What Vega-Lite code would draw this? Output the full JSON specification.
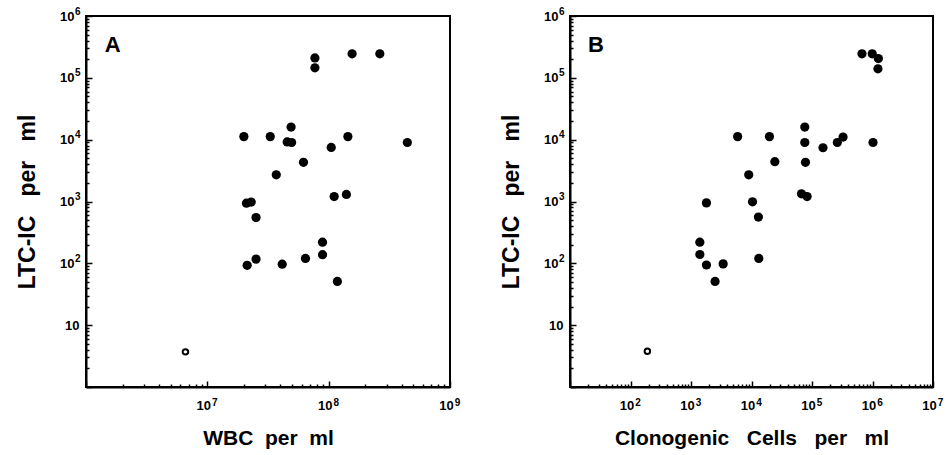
{
  "$schema": "https://vega.github.io/schema/vega-lite/v6.json",
  "background": "white",
  "padding": {"left": 15, "top": 5, "right": 5, "bottom": 5},
  "spacing": 38,
  "datasets": {
    "wbc": [
      {"x": 77000000, "y": 210000, "kind": "filled"},
      {"x": 77000000, "y": 145000, "kind": "filled"},
      {"x": 156000000, "y": 245000, "kind": "filled"},
      {"x": 264000000, "y": 245000, "kind": "filled"},
      {"x": 49000000, "y": 16000, "kind": "filled"},
      {"x": 20000000, "y": 11200, "kind": "filled"},
      {"x": 33000000, "y": 11200, "kind": "filled"},
      {"x": 45500000, "y": 9200, "kind": "filled"},
      {"x": 49500000, "y": 9000, "kind": "filled"},
      {"x": 144000000, "y": 11200, "kind": "filled"},
      {"x": 445000000, "y": 9000, "kind": "filled"},
      {"x": 105000000, "y": 7500, "kind": "filled"},
      {"x": 62000000, "y": 4300, "kind": "filled"},
      {"x": 37000000, "y": 2700, "kind": "filled"},
      {"x": 21000000, "y": 940, "kind": "filled"},
      {"x": 23000000, "y": 980, "kind": "filled"},
      {"x": 111000000, "y": 1200, "kind": "filled"},
      {"x": 140000000, "y": 1300, "kind": "filled"},
      {"x": 25200000, "y": 550, "kind": "filled"},
      {"x": 89000000, "y": 220, "kind": "filled"},
      {"x": 89000000, "y": 138, "kind": "filled"},
      {"x": 21300000, "y": 93, "kind": "filled"},
      {"x": 25200000, "y": 117, "kind": "filled"},
      {"x": 41400000, "y": 97, "kind": "filled"},
      {"x": 64400000, "y": 120, "kind": "filled"},
      {"x": 118000000, "y": 51, "kind": "filled"},
      {"x": 6600000, "y": 3.7, "kind": "open"}
    ],
    "clono": [
      {"x": 670000, "y": 245000, "kind": "filled"},
      {"x": 990000, "y": 245000, "kind": "filled"},
      {"x": 1250000, "y": 205000, "kind": "filled"},
      {"x": 1230000, "y": 140000, "kind": "filled"},
      {"x": 5900, "y": 11200, "kind": "filled"},
      {"x": 19800, "y": 11200, "kind": "filled"},
      {"x": 76000, "y": 16000, "kind": "filled"},
      {"x": 76000, "y": 9000, "kind": "filled"},
      {"x": 152000, "y": 7400, "kind": "filled"},
      {"x": 262000, "y": 9000, "kind": "filled"},
      {"x": 326000, "y": 11000, "kind": "filled"},
      {"x": 1020000, "y": 9000, "kind": "filled"},
      {"x": 78000, "y": 4300, "kind": "filled"},
      {"x": 24300, "y": 4400, "kind": "filled"},
      {"x": 9000, "y": 2700, "kind": "filled"},
      {"x": 1800, "y": 950, "kind": "filled"},
      {"x": 10400, "y": 990, "kind": "filled"},
      {"x": 67000, "y": 1330, "kind": "filled"},
      {"x": 83000, "y": 1200, "kind": "filled"},
      {"x": 13000, "y": 560, "kind": "filled"},
      {"x": 1400, "y": 220, "kind": "filled"},
      {"x": 1400, "y": 139, "kind": "filled"},
      {"x": 1800, "y": 94, "kind": "filled"},
      {"x": 3400, "y": 98, "kind": "filled"},
      {"x": 2500, "y": 51, "kind": "filled"},
      {"x": 13200, "y": 120, "kind": "filled"},
      {"x": 190, "y": 3.8, "kind": "open"}
    ],
    "labA": [{"label": "A", "x": 1430000, "y": 260000}],
    "labB": [{"label": "B", "x": 19.8, "y": 260000}]
  },
  "hconcat": [
    {
      "width": 364,
      "height": 371,
      "resolve": {"axis": {"x": "independent", "y": "independent"}},
      "layer": [
        {
          "data": {"name": "wbc"},
          "transform": [{"filter": "datum.kind == 'filled'"}],
          "mark": {"type": "point", "shape": "circle", "filled": true, "color": "black", "opacity": 1, "size": 85},
          "encoding": {
            "x": {"field": "x", "type": "quantitative", "scale": {"type": "log", "domain": [1000000, 1000000000], "nice": false},
              "axis": {"orient": "bottom", "title": "WBC\u00a0\u00a0per\u00a0\u00a0ml", "ticks": true, "labelOffset": -4, "labelPadding": 18,
                "tickSize": {"condition": {"test": "indexof([1000000,10000000,100000000,1000000000], datum.value) >= 0", "value": -6}, "value": -3},
                "values": [1000000,2000000,3000000,4000000,5000000,6000000,7000000,8000000,9000000,10000000,20000000,30000000,40000000,50000000,60000000,70000000,80000000,90000000,100000000,200000000,300000000,400000000,500000000,600000000,700000000,800000000,900000000,1000000000],
                "labelExpr": "datum.value == 10000000 || datum.value == 100000000 || datum.value == 1000000000 ? '10' : ''"}},
            "y": {"field": "y", "type": "quantitative", "scale": {"type": "log", "domain": [1, 1000000], "nice": false},
              "axis": {"orient": "left", "title": "LTC-IC\u00a0\u00a0\u00a0per\u00a0\u00a0\u00a0ml", "titleFontSize": 23, "titlePadding": 20, "ticks": true,
                "labelPadding": 18,
                "tickSize": {"condition": {"test": "indexof([1,10,100,1000,10000,100000,1000000], datum.value) >= 0", "value": -6}, "value": -3},
                "values": [1,2,3,4,5,6,7,8,9,10,20,30,40,50,60,70,80,90,100,200,300,400,500,600,700,800,900,1000,2000,3000,4000,5000,6000,7000,8000,9000,10000,20000,30000,40000,50000,60000,70000,80000,90000,100000,200000,300000,400000,500000,600000,700000,800000,900000,1000000],
                "labelExpr": "indexof([100,1000,10000,100000,1000000], datum.value) >= 0 ? '10' : ''"}}
          }
        },
        {
          "data": {"name": "wbc"},
          "transform": [{"filter": "datum.kind == 'open'"}],
          "mark": {"type": "point", "shape": "circle", "filled": false, "stroke": "black", "strokeWidth": 2, "fill": "white", "opacity": 1, "size": 30},
          "encoding": {
            "x": {"field": "x", "type": "quantitative",
              "axis": {"orient": "bottom", "title": null, "ticks": false, "domain": false, "labelFontSize": 10, "labelOffset": 7, "labelPadding": 10,
                "values": [10000000, 100000000, 1000000000],
                "labelExpr": "datum.value == 10000000 ? '7' : datum.value == 100000000 ? '8' : '9'"}},
            "y": {"field": "y", "type": "quantitative",
              "axis": {"orient": "left", "title": null, "ticks": false, "domain": false, "labelFontSize": 10, "labelOffset": -5, "labelPadding": 6,
                "values": [100, 1000, 10000, 100000, 1000000],
                "labelExpr": "datum.value == 100 ? '2' : datum.value == 1000 ? '3' : datum.value == 10000 ? '4' : datum.value == 100000 ? '5' : '6'"}}
          }
        },
        {
          "data": {"name": "labA"},
          "mark": {"type": "text", "align": "left", "baseline": "alphabetic", "font": "Liberation Sans", "fontWeight": "bold", "fontSize": 22, "color": "black"},
          "encoding": {
            "x": {"field": "x", "type": "quantitative", "axis": null},
            "y": {"field": "y", "type": "quantitative",
              "axis": {"orient": "left", "title": null, "ticks": false, "domain": false, "labelPadding": 7,
                "values": [10], "labelExpr": "'10'"}},
            "text": {"field": "label"}
          }
        }
      ]
    },
    {
      "width": 363,
      "height": 371,
      "resolve": {"axis": {"x": "independent", "y": "independent"}},
      "layer": [
        {
          "data": {"name": "clono"},
          "transform": [{"filter": "datum.kind == 'filled'"}],
          "mark": {"type": "point", "shape": "circle", "filled": true, "color": "black", "opacity": 1, "size": 85},
          "encoding": {
            "x": {"field": "x", "type": "quantitative", "scale": {"type": "log", "domain": [10, 10000000], "nice": false},
              "axis": {"orient": "bottom", "title": "Clonogenic\u00a0\u00a0\u00a0Cells\u00a0\u00a0\u00a0per\u00a0\u00a0\u00a0ml", "ticks": true, "labelOffset": -4, "labelPadding": 18,
                "tickSize": {"condition": {"test": "indexof([10,100,1000,10000,100000,1000000,10000000], datum.value) >= 0", "value": -6}, "value": -3},
                "values": [10,20,30,40,50,60,70,80,90,100,200,300,400,500,600,700,800,900,1000,2000,3000,4000,5000,6000,7000,8000,9000,10000,20000,30000,40000,50000,60000,70000,80000,90000,100000,200000,300000,400000,500000,600000,700000,800000,900000,1000000,2000000,3000000,4000000,5000000,6000000,7000000,8000000,9000000,10000000],
                "labelExpr": "indexof([100,1000,10000,100000,1000000,10000000], datum.value) >= 0 ? '10' : ''"}},
            "y": {"field": "y", "type": "quantitative", "scale": {"type": "log", "domain": [1, 1000000], "nice": false},
              "axis": {"orient": "left", "title": "LTC-IC\u00a0\u00a0\u00a0per\u00a0\u00a0\u00a0ml", "titleFontSize": 23, "titlePadding": 20, "ticks": true,
                "labelPadding": 18,
                "tickSize": {"condition": {"test": "indexof([1,10,100,1000,10000,100000,1000000], datum.value) >= 0", "value": -6}, "value": -3},
                "values": [1,2,3,4,5,6,7,8,9,10,20,30,40,50,60,70,80,90,100,200,300,400,500,600,700,800,900,1000,2000,3000,4000,5000,6000,7000,8000,9000,10000,20000,30000,40000,50000,60000,70000,80000,90000,100000,200000,300000,400000,500000,600000,700000,800000,900000,1000000],
                "labelExpr": "indexof([100,1000,10000,100000,1000000], datum.value) >= 0 ? '10' : ''"}}
          }
        },
        {
          "data": {"name": "clono"},
          "transform": [{"filter": "datum.kind == 'open'"}],
          "mark": {"type": "point", "shape": "circle", "filled": false, "stroke": "black", "strokeWidth": 2, "fill": "white", "opacity": 1, "size": 30},
          "encoding": {
            "x": {"field": "x", "type": "quantitative",
              "axis": {"orient": "bottom", "title": null, "ticks": false, "domain": false, "labelFontSize": 10, "labelOffset": 7, "labelPadding": 10,
                "values": [100, 1000, 10000, 100000, 1000000, 10000000],
                "labelExpr": "datum.value == 100 ? '2' : datum.value == 1000 ? '3' : datum.value == 10000 ? '4' : datum.value == 100000 ? '5' : datum.value == 1000000 ? '6' : '7'"}},
            "y": {"field": "y", "type": "quantitative",
              "axis": {"orient": "left", "title": null, "ticks": false, "domain": false, "labelFontSize": 10, "labelOffset": -5, "labelPadding": 6,
                "values": [100, 1000, 10000, 100000, 1000000],
                "labelExpr": "datum.value == 100 ? '2' : datum.value == 1000 ? '3' : datum.value == 10000 ? '4' : datum.value == 100000 ? '5' : '6'"}}
          }
        },
        {
          "data": {"name": "labB"},
          "mark": {"type": "text", "align": "left", "baseline": "alphabetic", "font": "Liberation Sans", "fontWeight": "bold", "fontSize": 22, "color": "black"},
          "encoding": {
            "x": {"field": "x", "type": "quantitative", "axis": null},
            "y": {"field": "y", "type": "quantitative",
              "axis": {"orient": "left", "title": null, "ticks": false, "domain": false, "labelPadding": 7,
                "values": [10], "labelExpr": "'10'"}},
            "text": {"field": "label"}
          }
        }
      ]
    }
  ],
  "config": {
    "view": {"stroke": "black", "strokeWidth": 2},
    "axis": {
      "domainColor": "black",
      "domainWidth": 2,
      "tickColor": "black",
      "tickWidth": 1.5,
      "grid": false,
      "labelOverlap": false,
      "labelFlush": false,
      "labelBound": false,
      "labelFont": "Liberation Sans",
      "labelFontWeight": "bold",
      "labelFontSize": 13,
      "labelColor": "black",
      "titleFont": "Liberation Sans",
      "titleFontWeight": "bold",
      "titleFontSize": 21,
      "titleColor": "black"
    },
    "axisX": {"titlePadding": 12}
  }
}
